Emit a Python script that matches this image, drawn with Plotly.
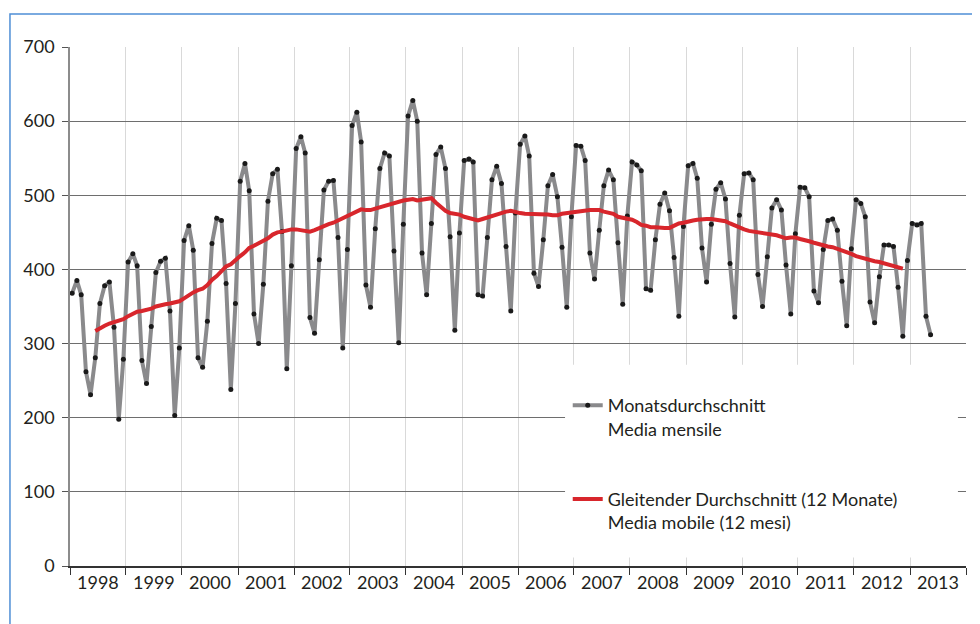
import pandas as pd
import plotly.graph_objects as go

# Monthly averages, Jan 1998 - May 2013 (one row per year)
monthly_avg = [
    368, 385, 366, 262, 231, 281, 354, 378, 383, 322, 198, 279,  # 1998
    410, 421, 405, 277, 246, 323, 396, 411, 415, 344, 203, 294,  # 1999
    439, 459, 426, 281, 268, 330, 435, 469, 466, 381, 238, 354,  # 2000
    519, 543, 506, 340, 300, 380, 492, 529, 535, 451, 266, 405,  # 2001
    563, 579, 557, 335, 314, 413, 507, 519, 520, 443, 294, 427,  # 2002
    594, 612, 572, 379, 349, 455, 536, 557, 553, 425, 301, 461,  # 2003
    607, 628, 600, 422, 366, 462, 555, 565, 536, 444, 318, 449,  # 2004
    547, 549, 545, 366, 364, 443, 521, 539, 516, 431, 344, 476,  # 2005
    569, 580, 553, 395, 377, 440, 513, 528, 498, 430, 349, 471,  # 2006
    567, 566, 547, 422, 387, 453, 513, 534, 521, 436, 353, 472,  # 2007
    545, 541, 533, 374, 372, 440, 488, 503, 479, 416, 337, 458,  # 2008
    540, 543, 523, 429, 383, 461, 508, 517, 495, 408, 336, 473,  # 2009
    529, 530, 521, 393, 350, 417, 483, 494, 480, 406, 340, 448,  # 2010
    511, 510, 498, 371, 355, 427, 466, 468, 453, 384, 324, 428,  # 2011
    494, 489, 471, 356, 328, 390, 433, 433, 431, 376, 310, 412,  # 2012
    462, 460, 462, 337, 312,                                     # 2013
]

# 12-month moving average, Jun 1998 - Nov 2012
moving_avg = [
    317, 321, 324, 327, 329, 331, 333,                           # 1998
    337, 340, 343, 344, 345, 347, 350, 352, 353, 354, 355, 357,  # 1999
    361, 366, 369, 372, 374, 379, 386, 391, 398, 404, 407, 413,  # 2000
    418, 423, 429, 432, 435, 439, 442, 447, 450, 451, 453, 454,  # 2001
    454, 453, 452, 451, 453, 456, 458, 461, 463, 466, 469, 473,  # 2002
    476, 479, 481, 480, 480, 482, 484, 485, 487, 490, 492, 493,  # 2003
    494, 495, 493, 494, 496, 496, 490, 484, 479, 476, 475, 474,  # 2004
    471, 469, 467, 466, 468, 470, 473, 475, 476, 478, 479, 477,  # 2005
    476, 475, 475, 475, 475, 475, 474, 473, 473, 475, 476, 476,  # 2006
    477, 478, 479, 480, 480, 480, 478, 476, 475, 471, 470, 469,  # 2007
    467, 464, 460, 459, 457, 457, 456, 456, 456, 459, 462, 463,  # 2008
    465, 466, 467, 468, 468, 468, 467, 466, 465, 462, 459, 456,  # 2009
    454, 452, 451, 450, 450, 449, 447, 446, 444, 442, 443, 443,  # 2010
    441, 440, 438, 436, 434, 433, 431, 430, 428, 426, 423, 421,  # 2011
    418, 416, 414, 413, 411, 410, 408, 406, 404, 403, 401,       # 2012
]

years = list(range(1998, 2014))
ma_start = 5  # moving average starts in June 1998

months = pd.date_range('1998-01-01', periods=len(monthly_avg), freq='MS') + pd.Timedelta(days=14)
ma_months = months[ma_start:ma_start + len(moving_avg)]

FONT = 'Lato, "Open Sans", sans-serif'
TEXT = '#231f20'

fig = go.Figure()
fig.add_trace(go.Scatter(
    x=months, y=monthly_avg,
    mode='lines+markers',
    line={'color': '#8a8a8c', 'width': 4},
    marker={'color': '#1a1a1a', 'size': 5},
    name='Monatsdurchschnitt<br>Media mensile',
    legendgroup='a',
))
fig.add_trace(go.Scatter(
    x=ma_months, y=moving_avg,
    mode='lines',
    line={'color': '#d8262c', 'width': 4},
    name='Gleitender Durchschnitt (12 Monate)<br>Media mobile (12 mesi)',
    legendgroup='b',
))

# page body has an 8px margin, so the figure is 8px smaller than the window
fig.update_layout(
    width=972, height=616,
    margin={'l': 62, 'r': 14, 't': 39, 'b': 58},
    paper_bgcolor='white', plot_bgcolor='white',
    font={'family': FONT, 'size': 18, 'color': TEXT},
    showlegend=True,
    legend={
        'x': 0.5555, 'y': 0.345, 'xanchor': 'left', 'yanchor': 'top',
        'bgcolor': 'rgba(0,0,0,0)', 'valign': 'top',
        'tracegroupgap': 44, 'font': {'size': 18, 'color': TEXT},
    },
    shapes=[
        # white box behind legend hiding gridlines
        {'type': 'rect', 'xref': 'paper', 'yref': 'paper',
         'x0': 0.5525, 'x1': 0.991, 'y0': 0.0164, 'y1': 0.388,
         'fillcolor': 'white', 'line': {'width': 0}, 'layer': 'above'},
        # chart frame
        {'type': 'rect', 'xref': 'paper', 'yref': 'paper',
         'x0': -0.067, 'x1': 1.2, 'y0': -0.3, 'y1': 1.0635,
         'line': {'color': '#4f8fd6', 'width': 1.5}, 'layer': 'below'},
    ],
)

fig.update_xaxes(
    type='date',
    range=['1998-01-01', '2014-01-01'],
    tickmode='array',
    tickvals=[f'{y}-07-02' for y in years],
    ticktext=[str(y) for y in years],
    ticks='', showgrid=False,
    showline=True, linecolor='#333333', linewidth=1.5,
    tickfont={'size': 18, 'color': TEXT},
    minor={
        'tickmode': 'array',
        'tickvals': [f'{y}-01-01' for y in years + [2014]],
        'ticks': 'outside', 'ticklen': 7, 'tickcolor': '#333333', 'tickwidth': 1,
        'showgrid': True, 'gridcolor': '#d9d9d9', 'gridwidth': 1,
    },
    zeroline=False,
)
fig.update_yaxes(
    range=[0, 700], dtick=100, tick0=0,
    showgrid=True, gridcolor='#6e6e6e', gridwidth=1.3,
    ticks='outside', ticklen=6, tickcolor='#555555',
    showline=True, linecolor='#8c8c8c', linewidth=1.5,
    zeroline=False,
    tickfont={'size': 18, 'color': TEXT},
    ticklabelstandoff=4,
)

fig.write_html('out.html')
